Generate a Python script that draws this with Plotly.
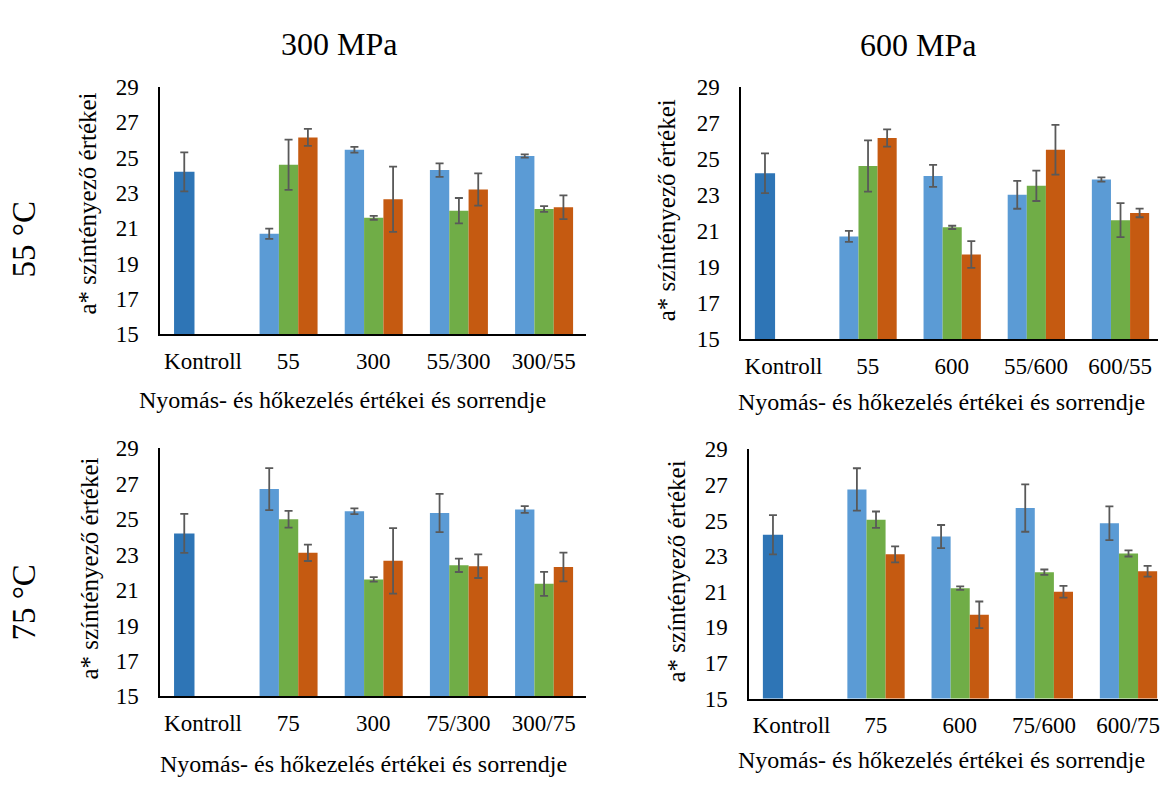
import plotly.graph_objects as go

W, H = 1160, 788
FONT = "Liberation Serif, Times New Roman, serif"

# ---------------- data ----------------
cats_55_300 = ["Kontroll", "55", "300", "55/300", "300/55"]
cats_55_600 = ["Kontroll", "55", "600", "55/600", "600/55"]
cats_75_300 = ["Kontroll", "75", "300", "75/300", "300/75"]
cats_75_600 = ["Kontroll", "75", "600", "75/600", "600/75"]

kontroll_val = 24.2
kontroll_err = 1.1

# 55 °C, 300 MPa
p1_blue = [20.7, 25.45, 24.3, 25.1]
p1_blue_err = [0.29, 0.16, 0.38, 0.09]
p1_green = [24.6, 21.6, 22.0, 22.1]
p1_green_err = [1.42, 0.11, 0.72, 0.16]
p1_orange = [26.15, 22.65, 23.2, 22.2]
p1_orange_err = [0.48, 1.85, 0.91, 0.67]

# 55 °C, 600 MPa
p2_blue = [20.7, 24.05, 23.0, 23.85]
p2_blue_err = [0.3, 0.61, 0.77, 0.12]
p2_green = [24.6, 21.2, 23.5, 21.6]
p2_green_err = [1.42, 0.09, 0.84, 0.94]
p2_orange = [26.15, 19.7, 25.5, 22.0]
p2_orange_err = [0.48, 0.74, 1.38, 0.24]

# 75 °C, 300 MPa
p3_blue = [26.7, 25.45, 25.35, 25.55]
p3_blue_err = [1.19, 0.16, 1.08, 0.19]
p3_green = [25.0, 21.6, 22.4, 21.35]
p3_green_err = [0.47, 0.13, 0.38, 0.68]
p3_orange = [23.1, 22.65, 22.35, 22.3]
p3_orange_err = [0.46, 1.85, 0.67, 0.81]

# 75 °C, 600 MPa
p4_blue = [26.75, 24.1, 25.7, 24.85]
p4_blue_err = [1.19, 0.65, 1.33, 0.95]
p4_green = [25.05, 21.2, 22.1, 23.15]
p4_green_err = [0.46, 0.1, 0.15, 0.17]
p4_orange = [23.1, 19.7, 21.0, 22.15]
p4_orange_err = [0.45, 0.75, 0.33, 0.3]

y_title = "a* színtényező értékei"
x_title = "Nyomás- és hőkezelés értékei és sorrendje"
col_titles = ["300 MPa", "600 MPa"]
row_titles = ["55 °C", "75 °C"]

# ---------------- style ----------------
C_KONT = "#2E75B6"
C_BLUE = "#5B9BD5"
C_GREEN = "#70AD47"
C_ORANGE = "#C55A11"
ERR_COLOR = "#595959"


def px(x):
    return x / W


def py(y):
    return 1 - y / H


panels = [
    dict(cats=cats_55_300, s=[(p1_blue, p1_blue_err), (p1_green, p1_green_err), (p1_orange, p1_orange_err)],
         xd=(160.7, 587.3), yd=(77.5, 333), xr=(-0.5, 4.5)),
    dict(cats=cats_55_600, s=[(p2_blue, p2_blue_err), (p2_green, p2_green_err), (p2_orange, p2_orange_err)],
         xd=(742.7, 1160), yd=(77, 338), xr=(-0.5, 4.45)),
    dict(cats=cats_75_300, s=[(p3_blue, p3_blue_err), (p3_green, p3_green_err), (p3_orange, p3_orange_err)],
         xd=(160.7, 587.3), yd=(450.7, 706.7), xr=(-0.5, 4.5)),
    dict(cats=cats_75_600, s=[(p4_blue, p4_blue_err), (p4_green, p4_green_err), (p4_orange, p4_orange_err)],
         xd=(750.7, 1160), yd=(451.7, 709), xr=(-0.5, 4.355)),
]

fig = go.Figure()
layout = {}
BW = 0.227
offsets = [-0.336, -0.109, 0.118]
colors = [C_BLUE, C_GREEN, C_ORANGE]
TICK_SIZE = 23

for i, p in enumerate(panels):
    k = "" if i == 0 else str(i + 1)
    xa, ya = "x" + k, "y" + k
    err_style = dict(type="data", symmetric=True, color=ERR_COLOR, thickness=1.8, width=4)
    fig.add_trace(go.Bar(
        x=[p["cats"][0]], y=[kontroll_val], xaxis=xa, yaxis=ya,
        marker=dict(color=C_KONT, line=dict(width=0)),
        offset=-0.34, width=0.24,
        error_y=dict(array=[kontroll_err], **err_style),
        showlegend=False, hoverinfo="skip"))
    for j, (vals, errs) in enumerate(p["s"]):
        fig.add_trace(go.Bar(
            x=p["cats"][1:], y=vals, xaxis=xa, yaxis=ya,
            marker=dict(color=colors[j], line=dict(width=0)),
            offset=offsets[j], width=BW,
            error_y=dict(array=errs, **err_style),
            showlegend=False, hoverinfo="skip"))
    layout["xaxis" + k] = dict(
        domain=[px(p["xd"][0]), px(p["xd"][1])], anchor=ya,
        type="category", categoryorder="array", categoryarray=p["cats"],
        range=list(p["xr"]), showline=True, linecolor="black", linewidth=2,
        ticks="outside", ticklen=5, tickcolor="rgba(0,0,0,0)",
        showgrid=False, zeroline=False,
        tickfont=dict(family=FONT, size=TICK_SIZE, color="black"))
    layout["yaxis" + k] = dict(
        domain=[py(p["yd"][1]), py(p["yd"][0])], anchor=xa,
        range=[15, 29], tick0=15, dtick=2, showline=True, linecolor="black", linewidth=2,
        ticks="outside", ticklen=15, tickcolor="rgba(0,0,0,0)",
        showgrid=False, zeroline=False,
        tickfont=dict(family=FONT, size=TICK_SIZE, color="black"))

annotations = []
def ann(text, x, y, size, angle=0):
    annotations.append(dict(text=text, x=px(x), y=py(y), xref="paper", yref="paper",
                            showarrow=False, textangle=angle, xanchor="center", yanchor="middle",
                            font=dict(family=FONT, size=size, color="black")))

ann(col_titles[0], 340, 33, 32)
ann(col_titles[1], 920, 34, 32)
ann(row_titles[0], 24, 235, 33, -90)
ann(row_titles[1], 24, 610, 33, -90)
ann(y_title, 88, 198, 25, -90)
ann(y_title, 668, 205, 25, -90)
ann(y_title, 90, 575, 25, -90)
ann(y_title, 678, 578, 25, -90)
ann(x_title, 343, 401, 24)
ann(x_title, 943, 403, 24)
ann(x_title, 364, 777, 24)
ann(x_title, 943, 772, 24)

fig.update_layout(**layout)
fig.update_layout(
    width=W, height=H, autosize=False,
    margin=dict(l=0, r=0, t=0, b=0),
    paper_bgcolor="white", plot_bgcolor="white",
    barmode="overlay", annotations=annotations, showlegend=False,
    font=dict(family=FONT, color="black"))

fig.write_html("out.html")
